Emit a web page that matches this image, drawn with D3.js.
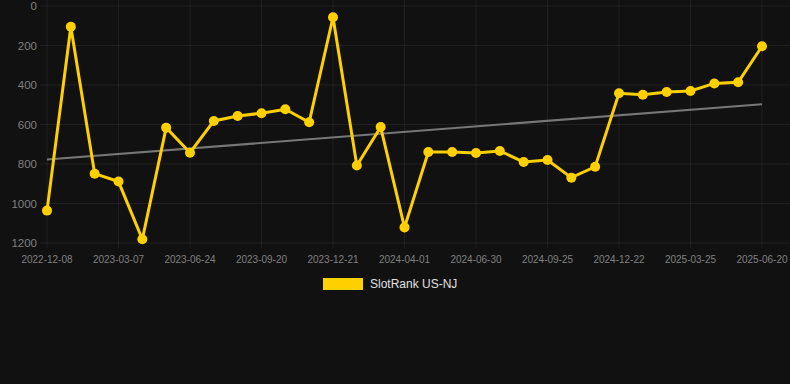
<!DOCTYPE html>
<html><head><meta charset="utf-8">
<script src="https://cdn.jsdelivr.net/npm/d3@7"></script>
<style>html,body{margin:0;padding:0;background:#111111;}svg{display:block;}</style>
</head><body><svg id="c" width="790" height="384"></svg>
<script>
const dates = ["2022-12-08","2023-01-07","2023-02-06","2023-03-07","2023-04-15","2023-05-20","2023-06-24","2023-07-23","2023-08-21","2023-09-20","2023-10-21","2023-11-20","2023-12-21","2024-01-24","2024-02-27","2024-04-01","2024-05-01","2024-05-31","2024-06-30","2024-07-29","2024-08-27","2024-09-25","2024-10-25","2024-11-23","2024-12-22","2025-01-22","2025-02-22","2025-03-25","2025-04-23","2025-05-22","2025-06-20"];
const ranks = [1036,105,849,889,1181,616,743,582,557,543,523,589,57,808,613,1121,739,739,744,734,790,780,869,814,442,449,435,430,392,386,204];
const yTicks = [0,200,400,600,800,1000,1200];
const seriesName = "SlotRank US-NJ";

(function(){
const svg = d3.select("#c");
const pl = 47, pr = 762, pt = 6, pb = 243;
const x = d3.scalePoint().domain(dates).range([pl, pr]);
const y = d3.scaleLinear().domain([0,1200]).range([pt, pb]);
const gridColor = "rgba(255,255,255,0.065)";

// grid
const xLabelIdx = d3.range(0, dates.length, 3);
svg.append("g").selectAll("line").data(xLabelIdx).join("line")
  .attr("x1", i => x(dates[i])).attr("x2", i => x(dates[i]))
  .attr("y1", 0).attr("y2", pb + 5)
  .attr("stroke", gridColor);
svg.append("g").selectAll("line").data(yTicks).join("line")
  .attr("x1", pl - 7).attr("x2", 790)
  .attr("y1", d => y(d)).attr("y2", d => y(d))
  .attr("stroke", gridColor);

// y labels
svg.append("g").selectAll("text").data(yTicks).join("text")
  .attr("x", 37).attr("y", d => y(d)).attr("dy", "0.35em")
  .attr("text-anchor", "end").attr("fill", "#808080")
  .style("font", "11.5px 'Liberation Sans', Arial, sans-serif")
  .text(d => d);

// x labels
svg.append("g").selectAll("text").data(xLabelIdx).join("text")
  .attr("x", i => x(dates[i])).attr("y", 259).attr("dy", "0.35em")
  .attr("text-anchor", "middle").attr("fill", "#808080")
  .style("font", "10px 'Liberation Sans', Arial, sans-serif")
  .text(i => dates[i]);

// trend (least squares)
const n = ranks.length;
const idx = d3.range(n);
const mx = d3.mean(idx), my = d3.mean(ranks);
const slope = d3.sum(idx, i => (i - mx) * (ranks[i] - my)) / d3.sum(idx, i => (i - mx) ** 2);
const icpt = my - slope * mx;
svg.append("line")
  .attr("x1", x(dates[0])).attr("y1", y(icpt))
  .attr("x2", x(dates[n-1])).attr("y2", y(icpt + slope * (n-1)))
  .attr("stroke", "#777777").attr("stroke-width", 2);

// series
const col = "#FFD000";
svg.append("path").datum(ranks)
  .attr("d", d3.line().x((d,i) => x(dates[i])).y(d => y(d)))
  .attr("fill", "none").attr("stroke", col).attr("stroke-width", 3)
  .attr("stroke-linejoin", "miter");
svg.append("g").selectAll("circle").data(ranks).join("circle")
  .attr("cx", (d,i) => x(dates[i])).attr("cy", d => y(d)).attr("r", 5)
  .attr("fill", col);

// legend
svg.append("rect").attr("x", 323).attr("y", 278).attr("width", 40).attr("height", 12).attr("fill", col);
svg.append("text").attr("x", 370).attr("y", 284).attr("dy", "0.35em")
  .attr("fill", "#e0e0e0").style("font", "12px 'Liberation Sans', Arial, sans-serif")
  .text(seriesName);
})();
</script></body></html>
